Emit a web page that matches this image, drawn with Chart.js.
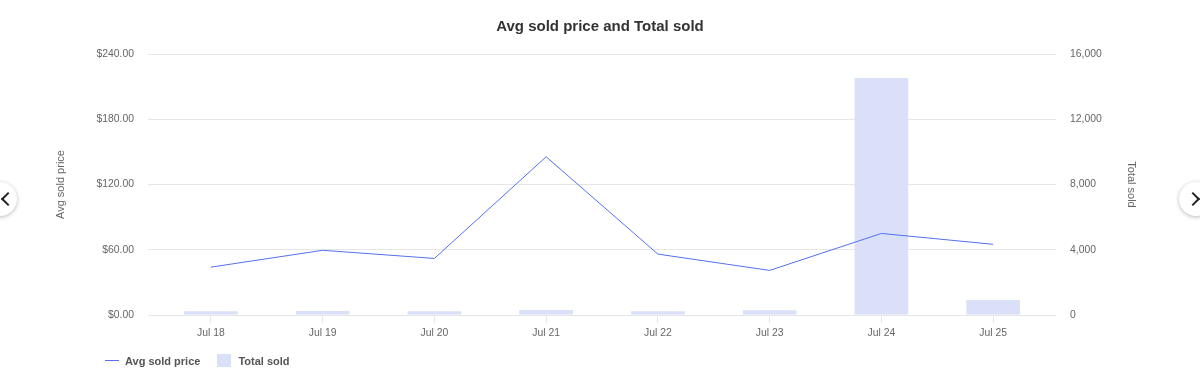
<!DOCTYPE html>
<html>
<head>
<meta charset="utf-8">
<script src="https://cdn.jsdelivr.net/npm/chart.js@4"></script>
<style>
  html, body { margin: 0; padding: 0; background: #fff; }
  body { width: 1200px; height: 383px; position: relative; overflow: hidden;
    font-family: "Liberation Sans", Arial, Helvetica, sans-serif; }
  #wrap { position: absolute; left: 0; top: 0; width: 1200px; height: 383px; }
  .nav { position: absolute; top: 182px; width: 34px; height: 34px; border-radius: 50%;
    background: #fff; box-shadow: 0 1px 4px rgba(0,0,0,0.28); }
  .nav::after { content: ''; position: absolute; top: 12px; width: 8px; height: 8px;
    border-top: 2px solid #222; border-right: 2px solid #222; }
  #navL { left: -17px; }
  #navL::after { left: 20px; transform: rotate(-135deg); }
  #navR { left: 1179px; }
  #navR::after { left: 9px; transform: rotate(45deg); }
  #legend { position: absolute; left: 105px; top: 354px; display: flex; align-items: center;
    font-size: 11px; font-weight: bold; color: #555; }
  #legend .item { display: flex; align-items: center; margin-right: 17px; }
  #legend .ln { width: 14px; height: 0; border-top: 1.5px solid #5470f0; margin-right: 6px; }
  #legend .bx { width: 14px; height: 13px; background: #d9e0f8; margin-right: 7px; }
</style>
</head>
<body>
<div id="wrap"><canvas id="chart" width="1200" height="383"></canvas></div>
<div class="nav" id="navL"></div>
<div class="nav" id="navR"></div>
<div id="legend">
  <div class="item"><span class="ln"></span>Avg sold price</div>
  <div class="item"><span class="bx"></span>Total sold</div>
</div>
<script>
const days = ['Jul 18', 'Jul 19', 'Jul 20', 'Jul 21', 'Jul 22', 'Jul 23', 'Jul 24', 'Jul 25'];
const avgPrice = [44, 59.5, 52, 145.5, 56, 41, 75, 65];
const totalSold = [230, 240, 235, 310, 225, 290, 14530, 920];
const priceTicks = [0, 60, 120, 180, 240];
const soldTicks = [0, 4000, 8000, 12000, 16000];

const lineColor = '#5470f0';
const barColor = '#d9e0f8';
const tickColor = '#666';
const gridColor = '#e6e6e6';
const fontFamily = '"Liberation Sans", Arial, Helvetica, sans-serif';
const tickFont = { size: 10.4 };

Chart.defaults.font.family = fontFamily;
Chart.defaults.animation = false;

new Chart(document.getElementById('chart'), {
  data: {
    labels: days,
    datasets: [
      {
        type: 'line',
        label: 'Avg sold price',
        data: avgPrice,
        yAxisID: 'yPrice',
        borderColor: lineColor,
        borderWidth: 1,
        pointRadius: 0,
        tension: 0,
        order: 0,
      },
      {
        type: 'bar',
        label: 'Total sold',
        data: totalSold,
        yAxisID: 'ySold',
        backgroundColor: barColor,
        barPercentage: 0.6,
        categoryPercentage: 0.8,
        order: 1,
      },
    ],
  },
  options: {
    responsive: false,
    layout: { padding: { left: 50, right: 50, top: 8, bottom: 40 } },
    plugins: {
      legend: { display: false },
      tooltip: { enabled: false },
      title: {
        display: true,
        text: 'Avg sold price and Total sold',
        color: '#333',
        font: { size: 15, weight: 'bold' },
        padding: { top: 10, bottom: 18 },
      },
    },
    scales: {
      x: {
        grid: { display: true, offset: false, drawOnChartArea: false, drawTicks: true, tickLength: 8, color: gridColor },
        border: { display: false },
        ticks: { color: tickColor, font: tickFont, padding: 4, maxRotation: 0 },
        afterFit: (s) => { s.height = 28; },
      },
      yPrice: {
        position: 'left',
        min: 0,
        max: 240,
        afterBuildTicks: (s) => { s.ticks = priceTicks.map((v) => ({ value: v })); },
        ticks: { color: tickColor, font: tickFont, padding: 14,
          callback: (v) => '$' + Number(v).toFixed(2) },
        grid: { color: gridColor, tickLength: 7 },
        border: { display: false },
        title: { display: true, text: 'Avg sold price', color: tickColor, font: { size: 11 }, padding: { top: 4, bottom: 4 } },
        afterFit: (s) => { s.width = 105; },
      },
      ySold: {
        position: 'right',
        min: 0,
        max: 16000,
        afterBuildTicks: (s) => { s.ticks = soldTicks.map((v) => ({ value: v })); },
        ticks: { color: tickColor, font: tickFont, padding: 14,
          callback: (v) => Number(v).toLocaleString('en-US') },
        grid: { color: gridColor, tickLength: 7, drawOnChartArea: false },
        border: { display: false },
        title: { display: true, text: 'Total sold', color: tickColor, font: { size: 11 }, padding: { top: 12, bottom: 4 } },
        afterFit: (s) => { s.width = 101; },
      },
    },
  },
});
</script>
</body>
</html>
